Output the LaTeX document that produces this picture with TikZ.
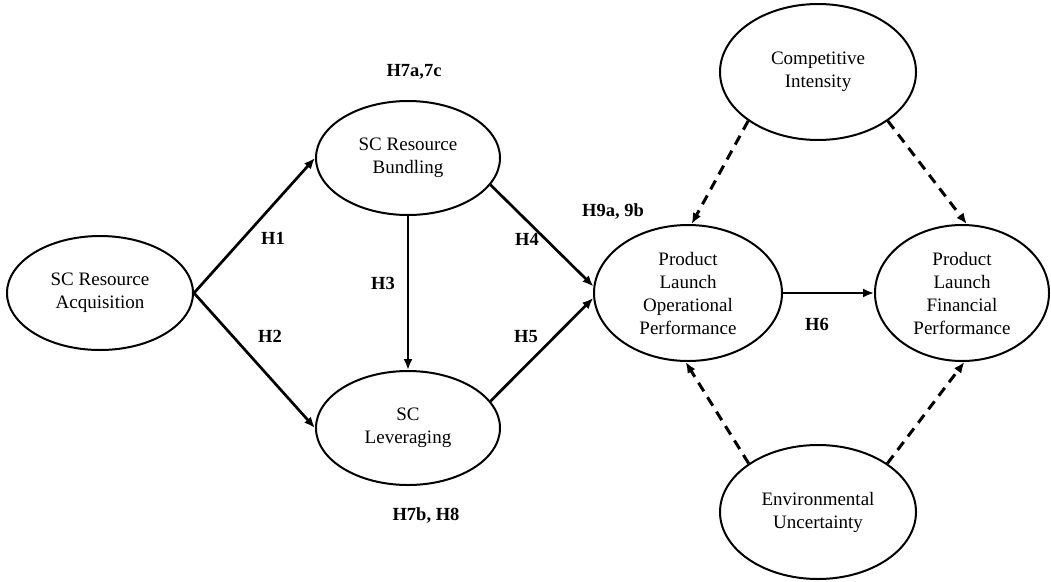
\documentclass[tikz,border=0pt]{standalone}
\usepackage{fontspec}
\setmainfont{Liberation Serif}
\usetikzlibrary{shapes.geometric,arrows.meta}

\begin{document}
\begin{tikzpicture}[x=1pt, y=-1pt,
    construct/.style={ellipse, draw, line width=2pt, inner sep=0pt,
      align=center, font=\fontsize{19}{23}\selectfont},
    hyp/.style={font=\fontsize{18.5}{21}\selectfont\bfseries},
    path/.style={line width=2.7pt, -{Latex[length=11pt,width=9pt]}},
    moder/.style={line width=3pt, dash pattern=on 10pt off 7pt,
      -{Latex[length=11pt,width=9pt]}}]
  \useasboundingbox (0,0) rectangle (1051,581);

  % Konstrukty
  \node[construct, minimum width=186pt, minimum height=114pt] (acq) at (100,293)
    {SC Resource\\Acquisition};
  \node[construct, minimum width=184pt, minimum height=114pt] (bund) at (408,158)
    {SC Resource\\Bundling};
  \node[construct, minimum width=184pt, minimum height=114pt] (lev) at (408,428)
    {SC\\Leveraging};
  \node[construct, minimum width=188pt, minimum height=136pt] (plop) at (688,293)
    {Product\\Launch\\Operational\\Performance};
  \node[construct, minimum width=174pt, minimum height=136pt] (plfp) at (962,293)
    {Product\\Launch\\Financial\\Performance};
  \node[construct, minimum width=196pt, minimum height=136pt] (ci) at (818,72)
    {Competitive\\Intensity};
  \node[construct, minimum width=196pt, minimum height=134pt] (eu) at (818,512)
    {Environmental\\Uncertainty};

  % Sciezki
  \draw[path] (acq.east) -- (bund.west);
  \draw[path] (acq.east) -- (lev.west);
  \draw[path] (bund.south) -- (lev.north);
  \draw[path] (bund.-18) -- (plop.176);
  \draw[path] (lev.18) -- (plop.183);
  \draw[path, line width=2pt] (plop.east) -- (plfp.west);

  % Moderatory
  \draw[moder] (ci.-145) -- (plop.87);
  \draw[moder] (ci.-35) -- (plfp.86);
  \draw[moder] (eu.145) -- (plop.268);
  \draw[moder] (eu.35) -- (plfp.272);

  % Hipotezy
  \node[hyp] (h7a) at (414,72) {H7a,7c};
  \node[hyp] (h1) at (273,238) {H1};
  \node[hyp] (h2) at (270,336) {H2};
  \node[hyp] (h3) at (383,283) {H3};
  \node[hyp] (h4) at (527,239) {H4};
  \node[hyp] (h5) at (526,337) {H5};
  \node[hyp] (h9) at (613,212) {H9a, 9b};
  \node[hyp] (h6) at (817,324) {H6};
  \node[hyp] (h7b) at (426,516) {H7b, H8};
\end{tikzpicture}
\end{document}
